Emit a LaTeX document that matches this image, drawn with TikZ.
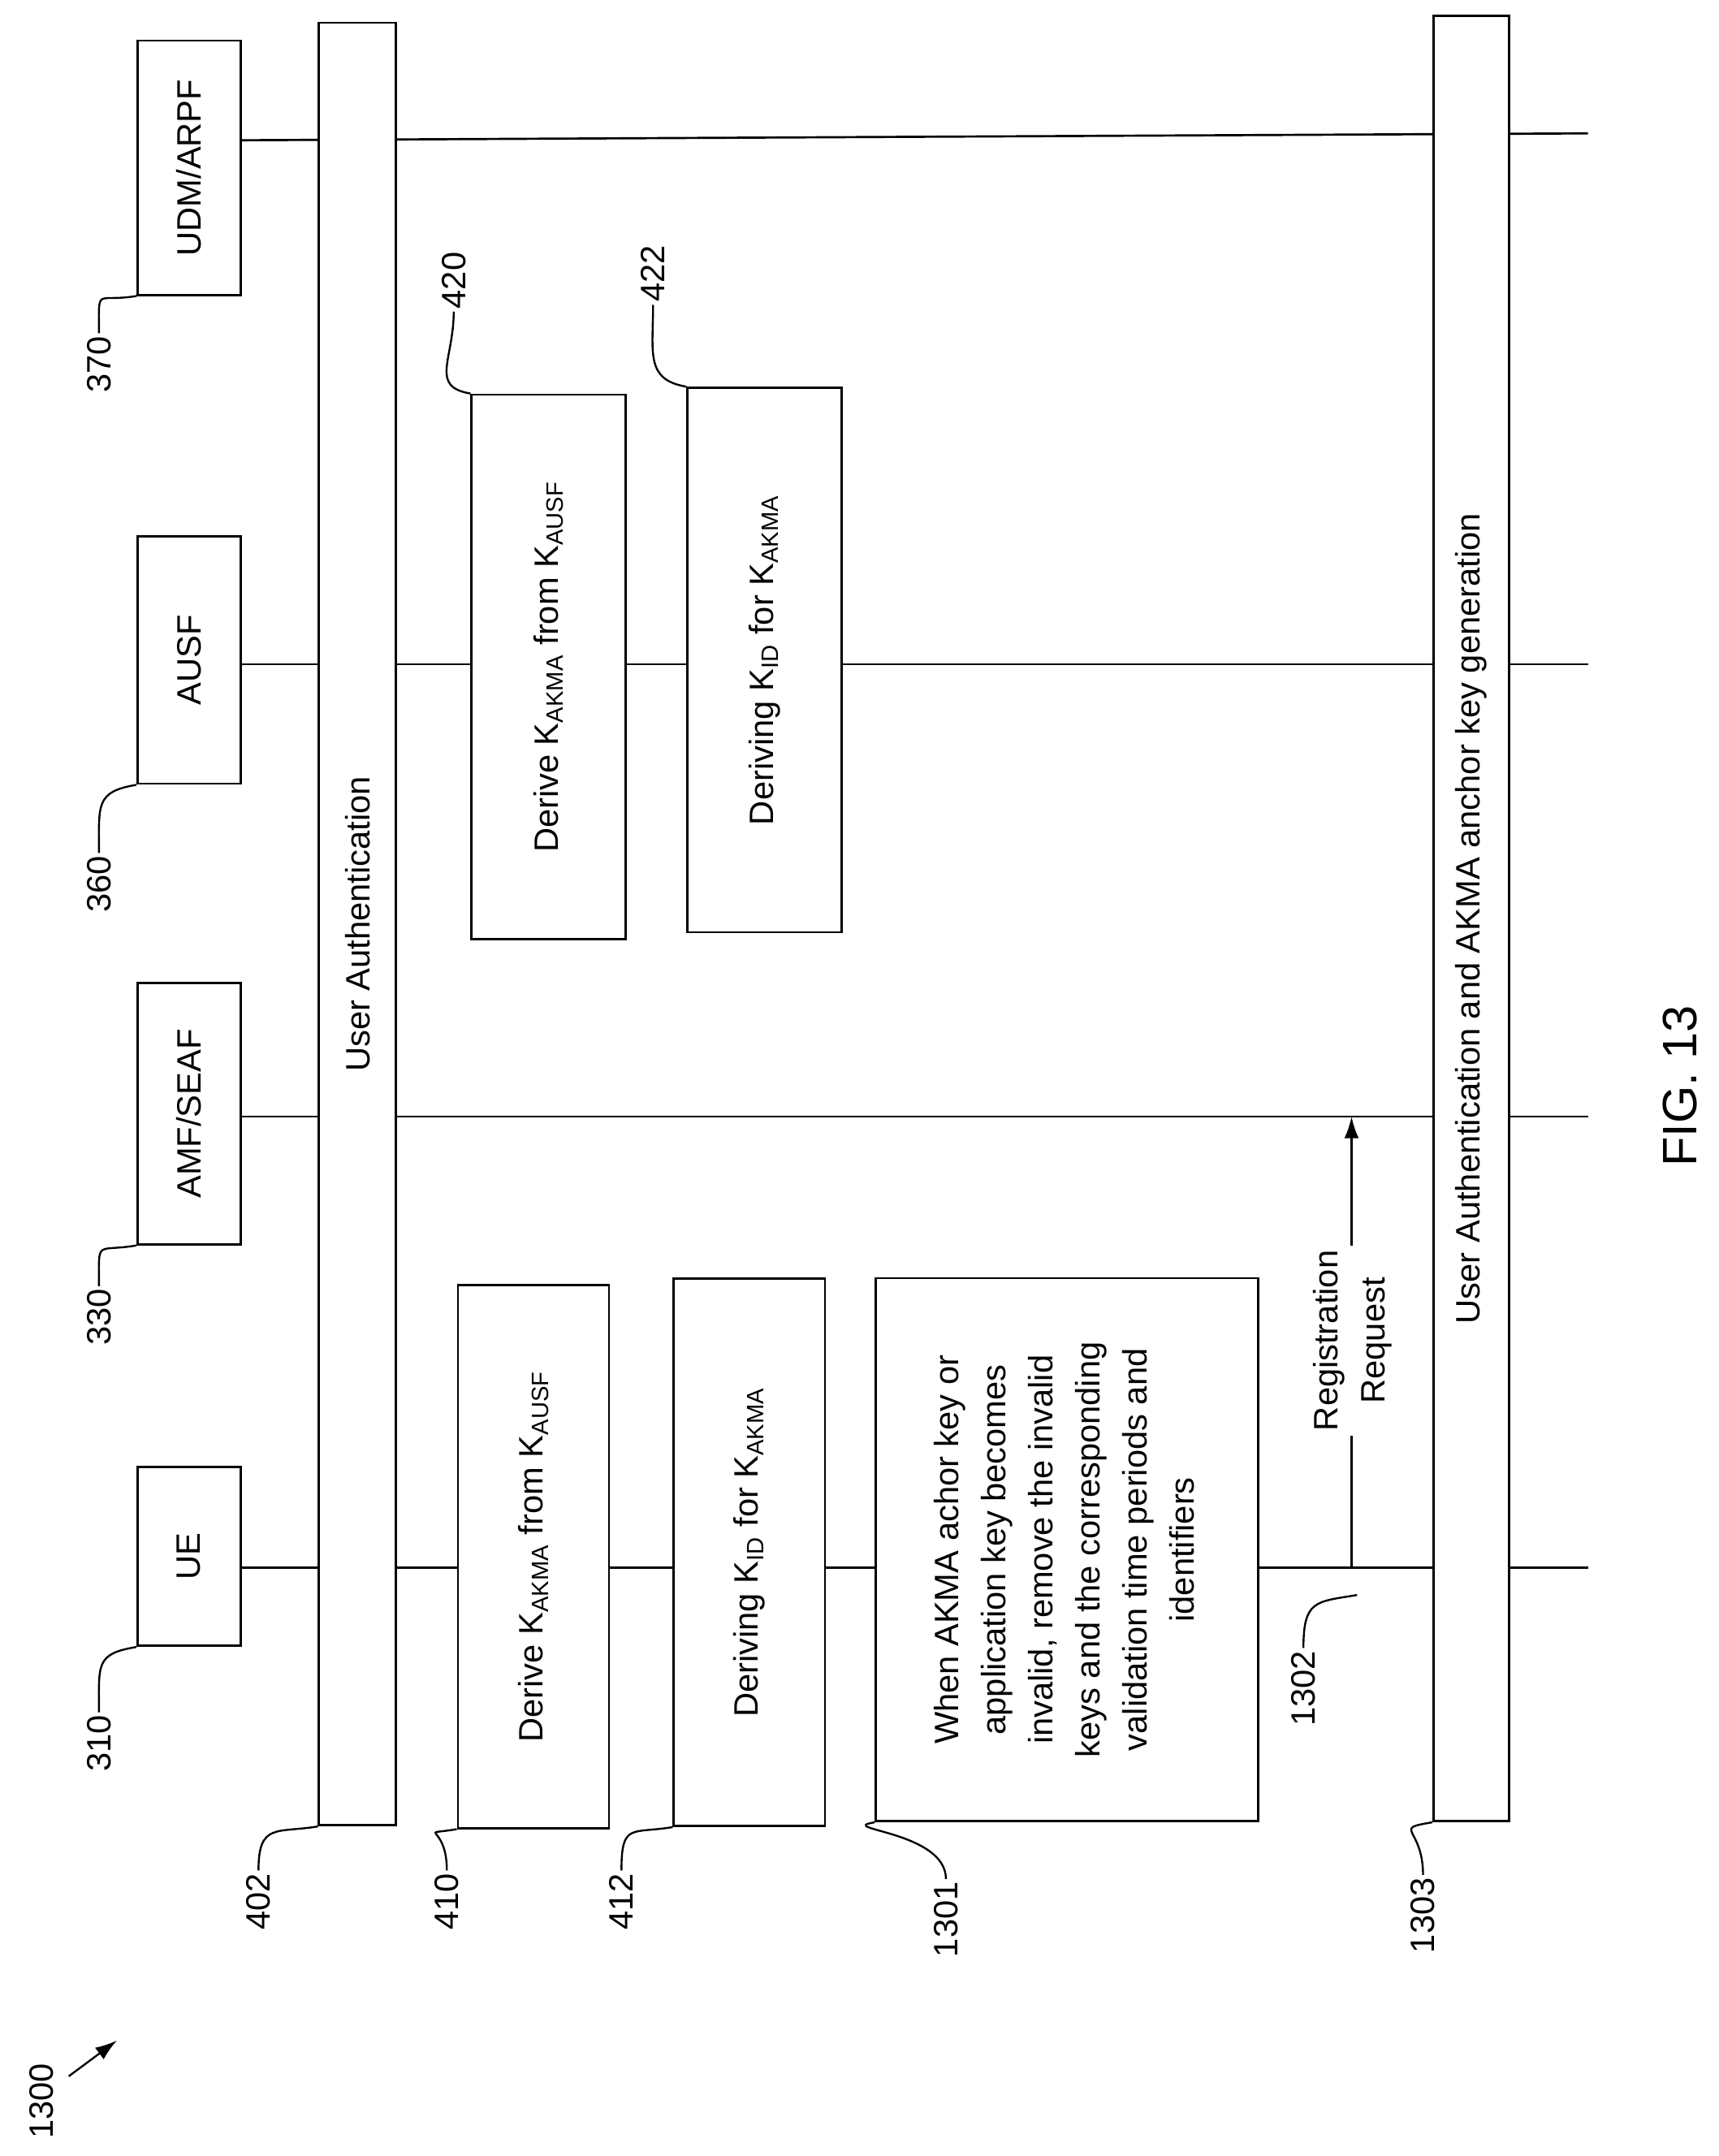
\documentclass[tikz,border=0pt]{standalone}
\usepackage{fontspec}
\setmainfont{Liberation Sans}
\usetikzlibrary{backgrounds,arrows.meta}
\begin{document}
\begin{tikzpicture}[%
    x=0.2mm, y=-0.2mm,
    >={Latex[length=9pt,width=6pt]},
    font=\fontsize{14}{19.5}\selectfont,
box/.style={rectangle, draw=black, fill=white, line width=0.9pt, inner sep=0pt, align=center},
reflabel/.style={rotate=90, inner sep=1pt},
leader/.style={line width=0.8pt},
life/.style={line width=0.9pt},
]
\useasboundingbox (0,0) rectangle (1250,1568);

% Entity boxes
\node[box, minimum width=15mm, minimum height=26mm] (ue)   at (137.5,1132) {\rotatebox{90}{UE}};
\node[box, minimum width=15mm, minimum height=38mm] (amf)  at (137.5,810) {\rotatebox{90}{AMF/SEAF}};
\node[box, minimum width=15mm, minimum height=36mm] (ausf) at (137.5,480) {\rotatebox{90}{AUSF}};
\node[box, minimum width=15mm, minimum height=37mm] (udm)  at (137.5,122) {\rotatebox{90}{UDM/ARPF}};

% Bars
\node[box, minimum width=11.2mm, minimum height=262.2mm] (userauth) at (260,672) {\rotatebox{90}{User Authentication}};
\node[box, minimum width=11mm, minimum height=262.6mm] (akmaauth) at (1070,668) {\rotatebox{90}{User Authentication and AKMA anchor key generation}};

% UE side steps
\node[box, minimum width=22mm, minimum height=79mm] (uederive) at (388,1132) {\rotatebox{90}{Derive K\textsubscript{AKMA} from K\textsubscript{AUSF}}};
\node[box, minimum width=22mm, minimum height=79.6mm] (uekid) at (545,1129) {\rotatebox{90}{Deriving K\textsubscript{ID} for K\textsubscript{AKMA}}};
\node[box, minimum width=55.6mm, minimum height=79mm] (remove) at (776,1127) {\rotatebox{90}{\begin{tabular}{@{}c@{}}When AKMA achor key or\\ application key becomes\\ invalid, remove the invalid\\ keys and the corresponding\\ validation time periods and\\ identifiers\end{tabular}}};

% AUSF side steps
\node[box, minimum width=22.4mm, minimum height=79.2mm] (ausfderive) at (399,485) {\rotatebox{90}{Derive K\textsubscript{AKMA} from K\textsubscript{AUSF}}};
\node[box, minimum width=22.4mm, minimum height=79.2mm] (ausfkid) at (556,480) {\rotatebox{90}{Deriving K\textsubscript{ID} for K\textsubscript{AKMA}}};

% Lifeline ends
\coordinate (ueend)   at (1155,1140);
\coordinate (amfend)  at (1155,812);
\coordinate (ausfend) at (1155,483);
\coordinate (udmend)  at (1155,97);
\coordinate (udmstart) at (175,102);
\coordinate (regstart) at (983,1140);
\coordinate (regend)   at (983,812);

\begin{scope}[on background layer]
\draw[life] (ue.east |- ueend) -- (ueend);
\draw[life] (amf.east |- amfend) -- (amfend);
\draw[life] (ausf.east |- ausfend) -- (ausfend);
\draw[life] (udmstart) -- (udmend);
\end{scope}

% Registration request
\draw[life, ->] (regstart) -- (regend);
\node[fill=white, inner sep=2pt] (regtext) at (983,975) {\rotatebox{90}{\begin{tabular}{@{}c@{}}Registration\\ Request\end{tabular}}};

% Reference numerals
\node[reflabel] (l310) at (72,1268) {310};
\node[reflabel] (l330) at (72,958) {330};
\node[reflabel] (l360) at (72,643) {360};
\node[reflabel] (l370) at (72,265) {370};
\node[reflabel] (l402) at (188,1383) {402};
\node[reflabel] (l410) at (325,1383) {410};
\node[reflabel] (l412) at (452,1383) {412};
\node[reflabel] (l1301) at (688,1396) {1301};
\node[reflabel] (l1302) at (948,1228) {1302};
\node[reflabel] (l1303) at (1035,1393) {1303};
\node[reflabel] (l420) at (330,204) {420};
\node[reflabel] (l422) at (475,199) {422};

\draw[leader] (l310.east) .. controls +(0,-35) and +(-30,5) .. (ue.south west);
\draw[leader] (l330.east) .. controls +(0,-35) and +(-30,5) .. (amf.south west);
\draw[leader] (l360.east) .. controls +(0,-35) and +(-30,5) .. (ausf.south west);
\draw[leader] (l370.east) .. controls +(0,-35) and +(-30,5) .. (udm.south west);
\draw[leader] (l402.east) .. controls +(0,-35) and +(-30,5) .. (userauth.south west);
\draw[leader] (l410.east) .. controls +(0,-35) and +(-30,5) .. (uederive.south west);
\draw[leader] (l412.east) .. controls +(0,-35) and +(-30,5) .. (uekid.south west);
\draw[leader] (l1301.east) .. controls +(0,-35) and +(-30,5) .. (remove.south west);
\draw[leader] (l1303.east) .. controls +(0,-35) and +(-30,5) .. (akmaauth.south west);
\coordinate (regfoot) at (987,1160);
\draw[leader] (l1302.east) .. controls +(0,-35) and +(-30,5) .. (regfoot);
\draw[leader] (l420.west) .. controls +(0,35) and +(-30,-5) .. (ausfderive.north west);
\draw[leader] (l422.west) .. controls +(0,35) and +(-30,-5) .. (ausfkid.north west);

% Figure label
\node[reflabel] (l1300) at (30,1528) {1300};
\coordinate (arrowfoot) at (50,1510);
\coordinate (arrowtip) at (85,1484);
\draw[leader, ->] (arrowfoot) -- (arrowtip);
\node[rotate=90, font=\fontsize{20}{24}\selectfont] (fig) at (1222,790) {FIG. 13};
\end{tikzpicture}
\end{document}
